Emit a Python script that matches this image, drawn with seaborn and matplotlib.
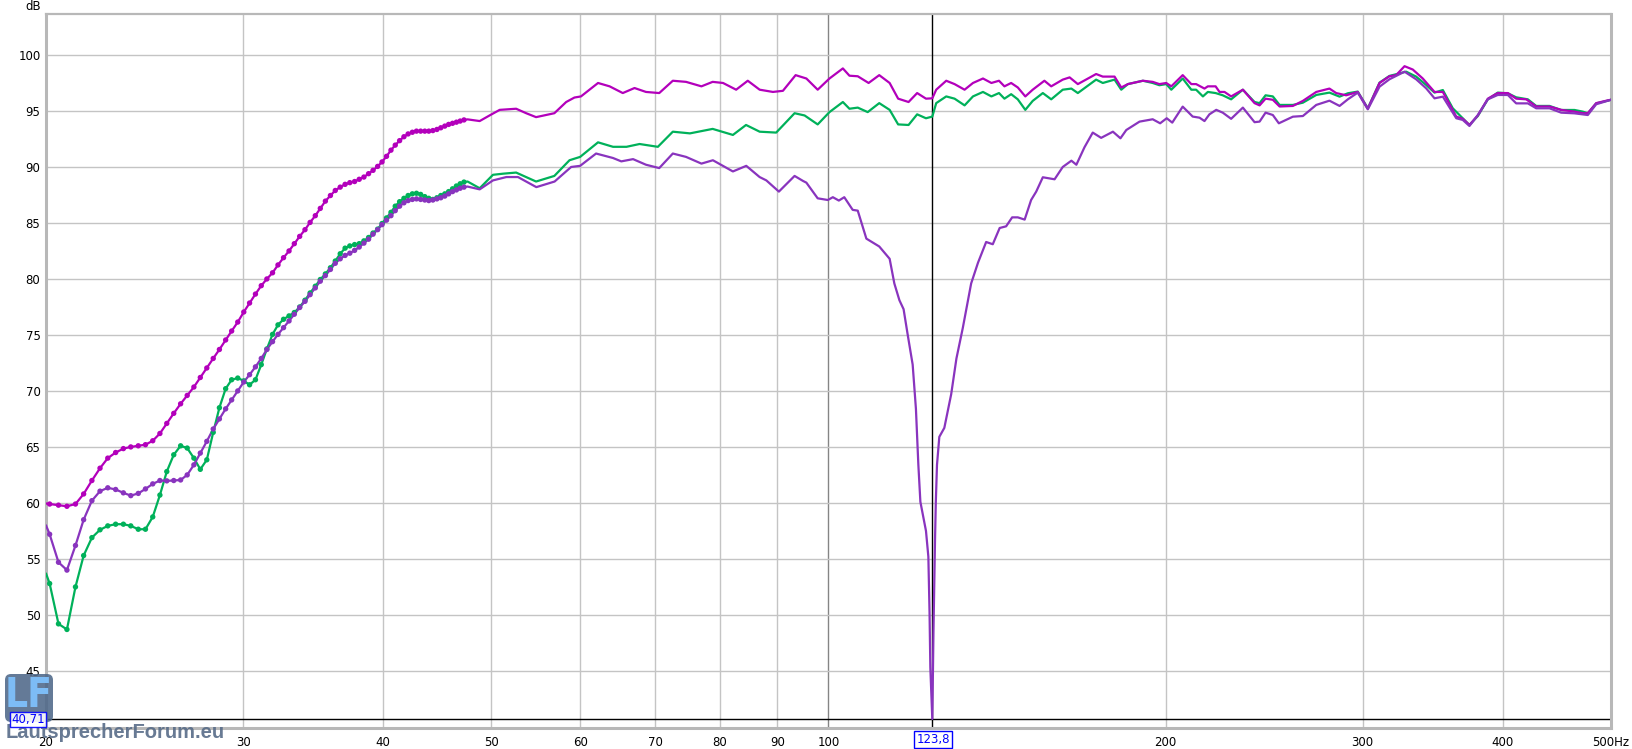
import numpy as np
import pandas as pd
import matplotlib
matplotlib.use("Agg")
import matplotlib.pyplot as plt
import seaborn as sns
from matplotlib.patches import FancyBboxPatch
from matplotlib.transforms import IdentityTransform

sns.set_theme(style="white")
plt.rcParams['font.family'] = ['DejaVu Sans']

# ---------------- data ----------------
# low-frequency sample grid (points drawn with dots), Hz; first entry = left edge
freq_lo = np.concatenate([[20.0], np.round(20.15 + 0.3662 * np.arange(75), 2)])

magenta_lo = [59.95,
    59.9, 59.8, 59.7, 59.9, 60.8, 62.0, 63.1, 64.0, 64.5, 64.85,
    65.0, 65.1, 65.2, 65.55, 66.2, 67.1, 68.0, 68.85, 69.6, 70.35,
    71.2, 72.05, 72.9, 73.7, 74.55, 75.35, 76.15, 77.05, 77.85, 78.65,
    79.4, 80.0, 80.55, 81.25, 81.9, 82.5, 83.15, 83.8, 84.4, 85.05,
    85.65, 86.3, 86.95, 87.45, 87.9, 88.2, 88.45, 88.6, 88.7, 88.9,
    89.1, 89.4, 89.7, 90.05, 90.45, 90.95, 91.5, 91.95, 92.35, 92.7,
    92.95, 93.1, 93.2, 93.2, 93.2, 93.2, 93.25, 93.35, 93.5, 93.65,
    93.8, 93.9, 94.0, 94.1, 94.2]
green_lo = [53.7,
    52.8, 49.2, 48.7, 52.5, 55.3, 56.9, 57.6, 57.95, 58.1, 58.1,
    57.95, 57.65, 57.65, 58.75, 60.7, 62.8, 64.3, 65.1, 64.9, 64.0,
    63.0, 63.85, 66.3, 68.5, 70.2, 71.0, 71.15, 70.9, 70.55, 71.0,
    72.35, 73.75, 75.05, 75.9, 76.4, 76.7, 77.0, 77.5, 78.1, 78.75,
    79.35, 79.95, 80.45, 81.0, 81.6, 82.25, 82.75, 82.95, 83.07, 83.15,
    83.4, 83.7, 84.1, 84.45, 84.95, 85.45, 85.95, 86.5, 86.9, 87.2,
    87.45, 87.6, 87.65, 87.55, 87.35, 87.2, 87.1, 87.25, 87.45, 87.6,
    87.8, 88.05, 88.3, 88.5, 88.65]
purple_lo = [58.0,
    57.2, 54.7, 54.0, 56.2, 58.5, 60.2, 61.05, 61.35, 61.2, 60.9,
    60.65, 60.85, 61.25, 61.7, 62.0, 61.97, 62.0, 62.05, 62.5, 63.4,
    64.45, 65.5, 66.6, 67.5, 68.4, 69.2, 70.0, 70.8, 71.45, 72.15,
    72.9, 73.7, 74.4, 75.05, 75.65, 76.25, 76.85, 77.45, 78.0, 78.6,
    79.2, 79.8, 80.3, 80.85, 81.4, 81.8, 82.1, 82.3, 82.55, 82.85,
    83.2, 83.55, 84.0, 84.4, 84.85, 85.25, 85.65, 86.1, 86.5, 86.8,
    87.0, 87.1, 87.15, 87.1, 87.05, 87.0, 87.05, 87.15, 87.25, 87.4,
    87.6, 87.8, 87.95, 88.1, 88.2]

magenta_hi_f = [47.6, 48.8, 49.8, 50.85, 52.6, 53.7, 54.8, 56.9, 58.3, 59.3, 60.1, 62.25,
    63.75, 65.5, 67.1, 68.7, 70.6, 72.6, 74.6, 77.0, 78.8, 80.5, 82.7, 84.7, 86.8, 89.2,
    91.05, 93.46, 95.55, 97.8, 100.2, 103.0, 104.4, 106.2, 108.6, 111.0, 113.4, 115.4,
    117.9, 120.0, 122.2, 123.8, 124.8, 127.4, 129.6, 132.3, 134.6, 137.4, 139.8, 142.0,
    143.6, 145.6, 147.6, 149.9, 152.2, 155.9, 158.1, 161.9, 164.2, 167.0, 173.4, 175.8,
    180.1, 182.6, 185.1, 190.9, 194.8, 197.5, 200.3, 202.4, 207.2, 210.9, 213.0, 216.7,
    218.2, 221.7, 223.5, 225.8, 228.9, 234.5, 240.2, 242.7, 245.7, 249.4, 252.9, 259.9,
    265.3, 272.7, 280.2, 284.1, 290.0, 297.0, 303.2, 310.6, 317.0, 321.4, 327.0, 332.6,
    339.5, 347.8, 353.8, 363.7, 368.6, 373.7, 380.2, 388.1, 396.1, 404.4, 411.4, 420.0,
    428.7, 440.6, 451.3, 463.8, 471.8, 476.7, 485.0, 496.7, 500.0]
magenta_hi_db = [94.25, 94.1, 94.6, 95.1, 95.2, 94.8, 94.45, 94.8, 95.8, 96.2, 96.3, 97.5,
    97.2, 96.6, 97.05, 96.7, 96.6, 97.7, 97.6, 97.2, 97.6, 97.5, 96.9, 97.7, 96.9, 96.7,
    96.8, 98.2, 97.9, 96.9, 97.9, 98.8, 98.15, 98.1, 97.5, 98.2, 97.5, 96.1,
    95.8, 96.6, 96.1, 96.13, 96.9, 97.7, 97.4, 96.9, 97.5, 97.9, 97.5, 97.7,
    97.2, 97.5, 97.1, 96.3, 96.9, 97.7, 97.2, 97.8, 98.0, 97.4, 98.3, 98.07,
    98.07, 97.1, 97.4, 97.7, 97.6, 97.4, 97.5, 97.2, 98.2, 97.4, 97.4, 97.0,
    97.2, 97.2, 96.7, 96.7, 96.3, 96.9, 95.7, 95.5, 96.1, 96.0, 95.4, 95.45,
    95.9, 96.7, 97.0, 96.6, 96.4, 96.7, 95.2, 97.5, 98.1, 98.2, 99.0, 98.7,
    97.9, 96.7, 96.7, 94.5, 94.3, 93.75, 94.6, 96.1, 96.6, 96.6, 96.1, 96.04,
    95.4, 95.4, 95.1, 94.94, 94.8, 94.8, 95.7, 95.95, 96.0]

green_hi_f = [47.6, 48.8, 50.15, 51.2, 52.6, 53.7, 54.8, 56.9, 58.7, 60.0, 62.25, 64.2,
    66.0, 67.8, 70.4, 72.6, 75.2, 78.8, 82.15, 84.4, 86.8, 89.8, 93.26, 95.2, 97.8,
    100.2, 103.0, 104.4, 106.2, 108.4, 111.0, 113.4, 115.4, 117.9, 120.0, 122.2, 123.8,
    124.8, 127.4, 129.6, 132.3, 134.6, 137.4, 139.8, 142.0, 143.6, 145.6, 147.6, 149.9,
    152.2, 155.4, 158.1, 161.9, 164.8, 167.0, 173.4, 175.8, 180.1, 182.6, 185.1, 190.9,
    194.8, 197.5, 200.3, 202.4, 207.2, 210.9, 213.0, 216.0, 218.2, 221.7, 225.0, 228.9,
    234.5, 240.2, 242.7, 245.7, 249.4, 252.9, 259.9, 265.3, 272.7, 280.2, 286.1, 291.0,
    297.0, 303.2, 310.6, 317.0, 323.6, 328.1, 334.9, 341.9, 347.8, 353.8, 361.1, 368.6,
    373.7, 380.2, 388.1, 396.1, 404.4, 411.4, 421.4, 428.7, 440.6, 451.3, 463.8, 471.8,
    476.7, 485.0, 496.7, 500.0]
green_hi_db = [88.7, 88.1, 89.3, 89.4, 89.5, 89.1, 88.7, 89.2, 90.6, 90.9, 92.2, 91.8,
    91.8, 92.05, 91.8, 93.15, 93.0, 93.4, 92.86, 93.75, 93.15, 93.07, 94.8, 94.6, 93.8,
    94.9, 95.8, 95.2, 95.3, 94.9, 95.7, 95.1, 93.8, 93.75, 94.7, 94.35, 94.5,
    95.7, 96.3, 96.1, 95.5, 96.3, 96.7, 96.3, 96.6, 96.1, 96.5, 96.04, 95.1,
    95.9, 96.6, 96.04, 96.9, 97.0, 96.6, 97.8, 97.5, 97.8, 96.9, 97.4, 97.7,
    97.5, 97.3, 97.4, 96.9, 97.9, 96.9, 96.9, 96.3, 96.7, 96.6, 96.4, 96.04,
    96.9, 95.8, 95.7, 96.4, 96.3, 95.54, 95.54, 95.74, 96.43, 96.64, 96.28, 96.58,
    96.73, 95.24, 97.53, 98.13, 98.36, 98.51, 98.07, 97.32, 96.64, 96.87, 95.24, 94.35,
    93.75, 94.55, 96.04, 96.64, 96.58, 96.22, 96.04, 95.45, 95.45, 95.09, 95.09, 94.94,
    94.79, 95.68, 95.92, 96.0]

purple_hi_f = [47.6, 48.8, 50.15, 51.55, 52.8, 54.83, 56.93, 58.9, 60.0, 62.0, 64.2, 65.3,
    66.9, 68.7, 70.6, 72.6, 74.6, 77.0, 78.84, 82.15, 84.44, 86.79, 88.0, 90.3, 93.26,
    94.9, 95.55, 97.8, 99.86, 100.9, 102.15, 103.3, 105.1, 106.2, 108.1, 109.5, 111.0,
    113.4, 114.5, 115.7, 116.7, 117.7, 118.9, 119.7, 120.3, 120.8, 121.5, 122.2, 122.8,
    123.1, 123.3, 123.8, 124.1, 124.5, 124.7, 125.0, 125.6, 126.9, 128.7, 130.1, 131.8,
    134.1, 136.0, 138.3, 140.2, 142.2, 144.1, 145.9, 147.6, 149.7, 151.7, 153.3, 155.4,
    159.2, 161.9, 164.8, 166.5, 169.3, 172.2, 175.2, 179.5, 182.3, 184.5, 189.6, 194.8,
    197.8, 200.5, 202.8, 207.2, 211.5, 214.5, 216.7, 218.9, 222.0, 225.0, 228.9, 234.5,
    240.2, 242.7, 245.7, 249.4, 252.5, 259.9, 265.3, 272.7, 280.2, 286.1, 291.0, 297.0,
    303.2, 310.6, 317.0, 327.0, 334.9, 341.9, 347.8, 353.8, 363.7, 368.6, 373.7, 380.2,
    388.1, 396.1, 404.4, 411.4, 421.4, 428.7, 440.6, 451.3, 463.8, 476.7, 485.0, 496.7,
    500.0]
purple_hi_db = [88.25, 88.0, 88.8, 89.1, 89.1, 88.2, 88.7, 90.0, 90.1, 91.2, 90.8, 90.5,
    90.7, 90.2, 89.9, 91.2, 90.9, 90.3, 90.6, 89.6, 90.1, 89.1, 88.8, 87.8, 89.2,
    88.75, 88.6, 87.2, 87.05, 87.3, 87.0, 87.3, 86.17, 86.1, 83.6, 83.26, 82.9,
    81.8, 79.6, 78.1, 77.3, 75.0, 72.35, 68.4, 63.4, 60.1, 58.8, 57.5, 55.2,
    50.2, 45.3, 40.71, 48.6, 56.8, 60.1, 63.4, 65.9, 66.7, 69.7, 72.9, 75.6,
    79.6, 81.45, 83.3, 83.1, 84.55, 84.7, 85.5, 85.5, 85.3, 87.05, 87.8, 89.08,
    88.9, 90.0, 90.56, 90.2, 91.76, 93.07, 92.6, 93.15, 92.56, 93.3, 94.05, 94.26,
    93.9, 94.35, 93.96, 95.39, 94.5, 94.4, 94.1, 94.7, 95.1, 94.85, 94.3, 95.3,
    94.0, 94.05, 94.85, 94.64, 93.9, 94.49, 94.55, 95.54, 95.92, 95.45, 96.04, 96.64,
    95.15, 97.17, 97.83, 98.51, 97.83, 97.02, 96.13, 96.28, 94.35, 94.2, 93.66, 94.64,
    96.04, 96.43, 96.43, 95.68, 95.68, 95.24, 95.24, 94.85, 94.79, 94.64, 95.6, 95.92,
    96.0]

series_names = ["green", "magenta", "purple"]
series_colors = {"green": "#00b15a", "magenta": "#b300bb", "purple": "#8934be"}

x_ticks = [20, 30, 40, 50, 60, 70, 80, 90, 100, 200, 300, 400, 500]
x_tick_labels = ["20", "30", "40", "50", "60", "70", "80", "90", "100", "200", "300", "400", "500Hz"]
y_ticks = [45, 50, 55, 60, 65, 70, 75, 80, 85, 90, 95, 100]

cursor_freq = 123.8
cursor_db = 40.71

# ---------------- build table ----------------
rows = []
for name, lo, hf, hd in [("green", green_lo, green_hi_f, green_hi_db),
                         ("magenta", magenta_lo, magenta_hi_f, magenta_hi_db),
                         ("purple", purple_lo, purple_hi_f, purple_hi_db)]:
    n = min(len(lo), len(freq_lo))
    for f, d in zip(freq_lo[:n], lo[:n]):
        rows.append((name, float(f), float(d), f > 20.1))
    for f, d in zip(hf, hd):
        rows.append((name, float(f), float(d), False))
df = pd.DataFrame(rows, columns=["series", "freq", "db", "dot"])

# ---------------- figure ----------------
W, H = 1633, 749
fig = plt.figure(figsize=(W / 100, H / 100), dpi=100)
ax = fig.add_axes([46 / W, 1 - 728 / H, (1611 - 46) / W, (728 - 14) / H])
ax.set_facecolor("white")

sns.lineplot(data=df, x="freq", y="db", hue="series", hue_order=series_names,
             palette=series_colors, estimator=None, sort=False, lw=1.6,
             legend=False, ax=ax, zorder=3)
sns.scatterplot(data=df[df["dot"]], x="freq", y="db", hue="series", hue_order=series_names,
                palette=series_colors, s=15, linewidth=0, legend=False, ax=ax, zorder=4)

ax.set_xscale("log")
ax.set_xlim(20, 500)
ax.set_ylim(39.9, 103.66)
ax.set_xticks(x_ticks)
ax.set_xticklabels(x_tick_labels)
ax.xaxis.set_minor_locator(matplotlib.ticker.NullLocator())
ax.set_yticks(y_ticks)
ax.set_yticklabels([str(v) for v in y_ticks])
ax.set_xlabel("")
ax.set_ylabel("")
ax.tick_params(axis="both", length=0, labelsize=8.5, colors="black")
ax.tick_params(axis="y", pad=4)
ax.tick_params(axis="x", pad=6)

ax.grid(True, color="#c4c4c4", lw=1, zorder=0)
for i, gl in enumerate(ax.get_xgridlines()):
    if i < len(x_ticks) and x_ticks[i] == 100:
        gl.set_color("#858585")

for sp in ax.spines.values():
    sp.set_color("#b8b8b8")
    sp.set_linewidth(2.2)
    sp.set_visible(True)
ax.spines["top"].set_linewidth(1.6)

# cursor
ax.axvline(cursor_freq, color="black", lw=1, zorder=2.5)
ax.axhline(cursor_db, color="black", lw=1, zorder=2.5)

# texts
fig.text(41 / W, 1 - 6 / H, "dB", ha="right", va="center", fontsize=8.5, color="black")
fig.text(933 / W, 1 - 739.5 / H, "123,8", ha="center", va="center", fontsize=8.5, color="#0000ff",
         bbox=dict(boxstyle="square,pad=0.15", fc="white", ec="#0000ff", lw=1), zorder=7)

# watermark
logo = FancyBboxPatch((5, H - 722), 48, 48, boxstyle="round,pad=0,rounding_size=6",
                      transform=IdentityTransform(), fc="#4e6889", ec="none", alpha=0.88, zorder=5)
fig.add_artist(logo)
fig.text(29 / W, 1 - 696 / H, "LF", ha="center", va="center", fontsize=29, fontweight="bold",
         color="#7dbcf5", family="DejaVu Sans", fontstretch="condensed", zorder=6)
fig.text(6 / W, 1 - 733 / H, "LautsprecherForum.eu", ha="left", va="center", fontsize=14.5,
         fontweight="bold", color="#586c88", alpha=0.9, family="Liberation Sans", zorder=6)

fig.text(28 / W, 1 - 719.5 / H, "40,71", ha="center", va="center", fontsize=8.5, color="#0000ff",
         bbox=dict(boxstyle="square,pad=0.12", fc="white", ec="#0000ff", lw=1, alpha=0.9), zorder=7)

fig.savefig("out.png", dpi=100, facecolor="white")
